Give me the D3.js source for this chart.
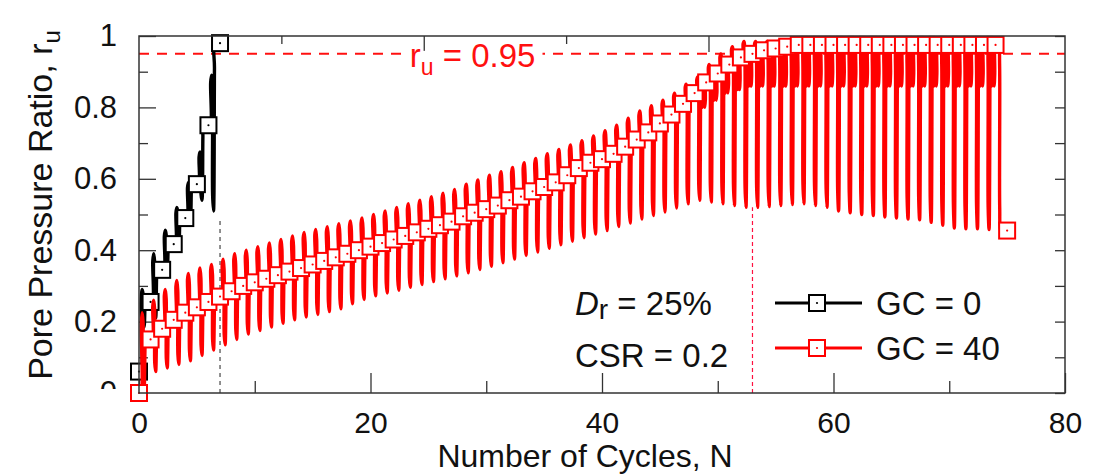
<!DOCTYPE html>
<html>
<head>
<meta charset="utf-8">
<script src="https://cdn.jsdelivr.net/npm/d3@7"></script>
<style>
  body { margin: 0; background: #fff; }
  text { font-family: "Liberation Sans", Arial, sans-serif; }
</style>
</head>
<body>
<div id="chart"></div>
<script>
// ---- data (per loading cycle) ----
// GC = 0 : residual ru at end of each cycle (N = 0..7), peak and trough inside each cycle
var gc0Resid  = [0.06, 0.255, 0.345, 0.417, 0.49, 0.585, 0.75, 0.98];
var gc0Peak   = [0.29, 0.39, 0.456, 0.52, 0.59, 0.675, 0.89];
var gc0Trough = [0.185, 0.21, 0.345, 0.405, 0.47, 0.54, 0.51];

// GC = 40 : residual ru at N = 0..75
var gc40Resid = [0.00, 0.15, 0.18, 0.205, 0.225, 0.24, 0.255, 0.27, 0.285, 0.30,
  0.31, 0.32, 0.33, 0.34, 0.35, 0.36, 0.37, 0.38, 0.39, 0.40,
  0.41, 0.42, 0.43, 0.44, 0.45, 0.46, 0.47, 0.48, 0.495, 0.505,
  0.515, 0.525, 0.54, 0.55, 0.565, 0.577, 0.59, 0.61, 0.63, 0.645,
  0.655, 0.67, 0.69, 0.71, 0.73, 0.755, 0.78, 0.81, 0.84, 0.87,
  0.895, 0.92, 0.94, 0.95, 0.96, 0.965, 0.97, 0.975, 0.975, 0.975,
  0.975, 0.975, 0.975, 0.975, 0.975, 0.975, 0.975, 0.975, 0.975, 0.975,
  0.975, 0.975, 0.975, 0.975, 0.975, 0.455];
// peak of each cycle (k = 0..74)
var gc40Peak = [0.225, 0.26, 0.29, 0.315, 0.335, 0.35, 0.36, 0.375, 0.39, 0.40,
  0.41, 0.42, 0.43, 0.44, 0.45, 0.458, 0.466, 0.474, 0.482, 0.49,
  0.50, 0.51, 0.52, 0.53, 0.54, 0.55, 0.56, 0.57, 0.585, 0.597,
  0.61, 0.62, 0.632, 0.645, 0.657, 0.67, 0.682, 0.695, 0.707, 0.72,
  0.735, 0.75, 0.77, 0.79, 0.805, 0.82, 0.84, 0.865, 0.885, 0.92,
  0.95, 0.97, 0.985, 0.985, 0.985, 0.985, 0.985, 0.985, 0.985, 0.985,
  0.985, 0.985, 0.985, 0.985, 0.985, 0.985, 0.985, 0.985, 0.985, 0.985,
  0.985, 0.985, 0.985, 0.985, 0.985];
// trough of each cycle (k = 0..74)
var gc40Trough = [0.01, 0.06, 0.07, 0.08, 0.09, 0.105, 0.12, 0.135, 0.15, 0.165,
  0.175, 0.185, 0.195, 0.205, 0.213, 0.22, 0.228, 0.236, 0.25, 0.262,
  0.272, 0.28, 0.288, 0.296, 0.304, 0.312, 0.32, 0.328, 0.337, 0.346,
  0.355, 0.365, 0.375, 0.385, 0.395, 0.405, 0.415, 0.425, 0.435, 0.445,
  0.455, 0.466, 0.476, 0.487, 0.497, 0.507, 0.518, 0.53, 0.54, 0.535,
  0.53, 0.525, 0.52, 0.52, 0.522, 0.525, 0.528, 0.53, 0.525, 0.52,
  0.51, 0.505, 0.50, 0.497, 0.493, 0.49, 0.487, 0.485, 0.478, 0.47,
  0.462, 0.46, 0.46, 0.458, 0.455];
// second (shallow) dips once liquefied, cycles 48..73
var gc40DipFrom = 48;
var gc40Dip = [0.80, 0.82, 0.84, 0.85, 0.86, 0.86, 0.86, 0.86, 0.86, 0.86,
  0.86, 0.86, 0.86, 0.86, 0.86, 0.86, 0.86, 0.86, 0.86, 0.86,
  0.86, 0.86, 0.86, 0.86, 0.86, 0.86];

var ruTarget = 0.95;
var liqN   = [7, 53];        // cycles to reach ru = 0.95
var liqTop = [0.49, 0.52];   // dashed marker height
var xMajor = [0, 20, 40, 60, 80];
var xMinor = [10, 30, 50, 70];
var yMajor = [0, 0.2, 0.4, 0.6, 0.8, 1];
var yMinor = [0.1, 0.3, 0.5, 0.7, 0.9];
var topMajor = [24.6, 49.2, 73.8];
var topMinor = [12.3, 36.9, 61.5];

var width = 1099, height = 476;
var margin = {left: 139, right: 34, top: 36, bottom: 83};

var x = d3.scaleLinear().domain([0, 80]).range([margin.left, width - margin.right]);
var y = d3.scaleLinear().domain([0, 1]).range([height - margin.bottom, margin.top]);

var svg = d3.select('#chart').append('svg')
    .attr('width', width)
    .attr('height', height);

var defs = svg.append('defs');
defs.append('clipPath').attr('id', 'plotClip')
  .append('rect')
    .attr('x', x(0)).attr('y', y(1))
    .attr('width', x(80) - x(0)).attr('height', y(0) - y(1));
defs.append('clipPath').attr('id', 'zeroClip')
  .append('rect')
    .attr('x', -200).attr('y', 0)
    .attr('width', 400).attr('height', y(0) - 4);

var axisColor = '#333';

// ---- axes ----
function styleAxis(g) {
  g.select('.domain').remove();
  g.selectAll('line').attr('stroke', axisColor).attr('stroke-width', 1.3);
  g.selectAll('text').attr('fill', '#111');
}
var fmtY = function(d) { return (d === 0 || d === 1) ? String(d) : d.toFixed(1); };

svg.append('g')
    .attr('transform', 'translate(0,' + y(0) + ')')
    .call(d3.axisBottom(x).tickValues(xMajor).tickSizeInner(-20).tickSizeOuter(0)
      .tickPadding(19).tickFormat(d3.format('d')))
    .call(styleAxis)
    .selectAll('text').attr('font-size', 30);
svg.append('g')
    .attr('transform', 'translate(0,' + y(0) + ')')
    .call(d3.axisBottom(x).tickValues(xMinor).tickSizeInner(-12).tickSizeOuter(0).tickFormat(''))
    .call(styleAxis);

var leftAxis = svg.append('g')
    .attr('transform', 'translate(' + x(0) + ',0)')
    .attr('clip-path', 'url(#zeroClip)')
    .call(d3.axisLeft(y).tickValues(yMajor).tickSizeInner(-17).tickSizeOuter(0)
      .tickPadding(22).tickFormat(fmtY))
    .call(styleAxis);
leftAxis.selectAll('text').attr('font-size', 31);
svg.append('g')
    .attr('transform', 'translate(' + x(0) + ',0)')
    .call(d3.axisLeft(y).tickValues(yMinor).tickSizeInner(-9).tickSizeOuter(0).tickFormat(''))
    .call(styleAxis);

svg.append('g')
    .attr('transform', 'translate(' + x(80) + ',0)')
    .call(d3.axisRight(y).tickValues(yMajor.concat(yMinor)).tickSizeInner(-10).tickSizeOuter(0).tickFormat(''))
    .call(styleAxis);
svg.append('g')
    .attr('transform', 'translate(0,' + y(1) + ')')
    .call(d3.axisTop(x).tickValues(topMajor).tickSizeInner(-16).tickSizeOuter(0).tickFormat(''))
    .call(styleAxis);
svg.append('g')
    .attr('transform', 'translate(0,' + y(1) + ')')
    .call(d3.axisTop(x).tickValues(topMinor).tickSizeInner(-8).tickSizeOuter(0).tickFormat(''))
    .call(styleAxis);

// ---- reference lines ----
svg.append('line')
    .attr('x1', x(0)).attr('x2', x(80))
    .attr('y1', y(ruTarget)).attr('y2', y(ruTarget))
    .attr('stroke', '#ff1010').attr('stroke-width', 2)
    .attr('stroke-dasharray', '10,8');

svg.append('line')
    .attr('x1', x(liqN[0])).attr('x2', x(liqN[0]))
    .attr('y1', y(0)).attr('y2', y(liqTop[0]))
    .attr('stroke', '#555').attr('stroke-width', 1.3)
    .attr('stroke-dasharray', '4,4');
svg.append('line')
    .attr('x1', x(liqN[1])).attr('x2', x(liqN[1]))
    .attr('y1', y(0)).attr('y2', y(liqTop[1]))
    .attr('stroke', '#ff1040').attr('stroke-width', 1.2)
    .attr('stroke-dasharray', '4,3');

// ---- cyclic ru traces: each cycle = residual -> peak -> trough -> next residual ----
function cyclePoints(resid, peak, trough, dip, dipFrom) {
  var pts = [];
  peak.forEach(function(p, k) {
    var r0 = resid[k], r1 = resid[k + 1], t = trough[k];
    pts.push([k, r0]);
    pts.push([k + 0.16, r0]);
    pts.push([k + 0.19, r0 + 0.85 * (p - r0)]);
    pts.push([k + 0.27, p]);
    pts.push([k + 0.35, p - 0.12 * (p - t)]);
    pts.push([k + 0.36, t + 0.12 * (p - t)]);
    pts.push([k + 0.44, t]);
    pts.push([k + 0.52, t + 0.85 * (r1 - t)]);
    pts.push([k + 0.55, r1]);
    if (dip && k >= dipFrom && k - dipFrom < dip.length) {
      var d = dip[k - dipFrom];
      [0.68, 0.88].forEach(function(c) {
        pts.push([k + c - 0.08, r1]);
        pts.push([k + c - 0.05, d + 0.3 * (r1 - d)]);
        pts.push([k + c, d]);
        pts.push([k + c + 0.05, d + 0.3 * (r1 - d)]);
        pts.push([k + c + 0.08, r1]);
      });
    }
  });
  pts.push([peak.length, resid[peak.length]]);
  return pts;
}

var line = d3.line()
    .x(function(d) { return x(d[0]); })
    .y(function(d) { return y(d[1]); })
    .curve(d3.curveCatmullRom.alpha(0.5));

var series = [
  {name: 'GC = 0',  color: '#000', resid: gc0Resid,
   pts: cyclePoints(gc0Resid, gc0Peak, gc0Trough)},
  {name: 'GC = 40', color: '#ff0000', resid: gc40Resid,
   pts: cyclePoints(gc40Resid, gc40Peak, gc40Trough, gc40Dip, gc40DipFrom)}
];

var markerSize = 16;

function drawMarkers(g, cx, cy, color) {
  g.append('rect')
      .attr('x', cx - markerSize / 2).attr('y', cy - markerSize / 2)
      .attr('width', markerSize).attr('height', markerSize)
      .attr('fill', '#fff').attr('stroke', color).attr('stroke-width', 2);
  g.append('circle')
      .attr('cx', cx).attr('cy', cy).attr('r', 1.1)
      .attr('fill', color);
}

series.forEach(function(s) {
  svg.append('path')
      .datum(s.pts)
      .attr('clip-path', 'url(#plotClip)')
      .attr('fill', 'none')
      .attr('stroke', s.color)
      .attr('stroke-width', 3.4)
      .attr('stroke-linejoin', 'round')
      .attr('d', line);
  var mg = svg.append('g');
  s.resid.forEach(function(v, i) {
    drawMarkers(mg, x(i), y(v), s.color);
  });
});

// ---- annotation ru = 0.95 ----
var ann = svg.append('text')
    .attr('x', x(23.4))
    .attr('y', y(ruTarget) + 13)
    .attr('font-size', 33)
    .attr('fill', '#ff1010');
ann.append('tspan').text('r');
ann.append('tspan').attr('font-size', 23).attr('dy', 8).text('u');
ann.append('tspan').attr('dy', -8).text(' = 0.95');
var bb = ann.node().getBBox();
svg.insert('rect', function() { return ann.node(); })
    .attr('x', bb.x - 5).attr('y', y(ruTarget) - 3)
    .attr('width', bb.width + 12).attr('height', 6)
    .attr('fill', '#fff');

// ---- legend ----
var lg = svg.append('g');
var t1 = lg.append('text').attr('x', 575).attr('y', 315).attr('font-size', 33).attr('fill', '#111');
t1.append('tspan').attr('font-style', 'italic').text('D');
t1.append('tspan').attr('font-size', 28).attr('dy', 4).text('r');
t1.append('tspan').attr('dy', -4).text(' = 25%');
lg.append('text').attr('x', 575).attr('y', 367).attr('font-size', 33).attr('fill', '#111')
    .text('CSR = 0.2');

var legY = [303, 348];
series.forEach(function(s, i) {
  lg.append('line')
      .attr('x1', 775).attr('x2', 862)
      .attr('y1', legY[i]).attr('y2', legY[i])
      .attr('stroke', s.color).attr('stroke-width', 3);
  drawMarkers(lg, 817, legY[i], s.color);
  lg.append('text')
      .attr('x', 876).attr('y', legY[i] + 12)
      .attr('font-size', 33).attr('fill', '#111')
      .text(s.name);
});

// ---- frame ----
svg.append('rect')
    .attr('x', x(0)).attr('y', y(1))
    .attr('width', x(80) - x(0)).attr('height', y(0) - y(1))
    .attr('fill', 'none').attr('stroke', axisColor).attr('stroke-width', 1.5);

// ---- axis titles ----
svg.append('text')
    .attr('x', 585).attr('y', 467)
    .attr('text-anchor', 'middle')
    .attr('font-size', 32).attr('fill', '#111')
    .text('Number of Cycles, N');

var yt = svg.append('text')
    .attr('transform', 'translate(52,205) rotate(-90)')
    .attr('text-anchor', 'middle')
    .attr('font-size', 34).attr('fill', '#111');
yt.append('tspan').text('Pore Pressure Ratio, r');
yt.append('tspan').attr('font-size', 24).attr('dy', 8).text('u');
</script>
</body>
</html>
